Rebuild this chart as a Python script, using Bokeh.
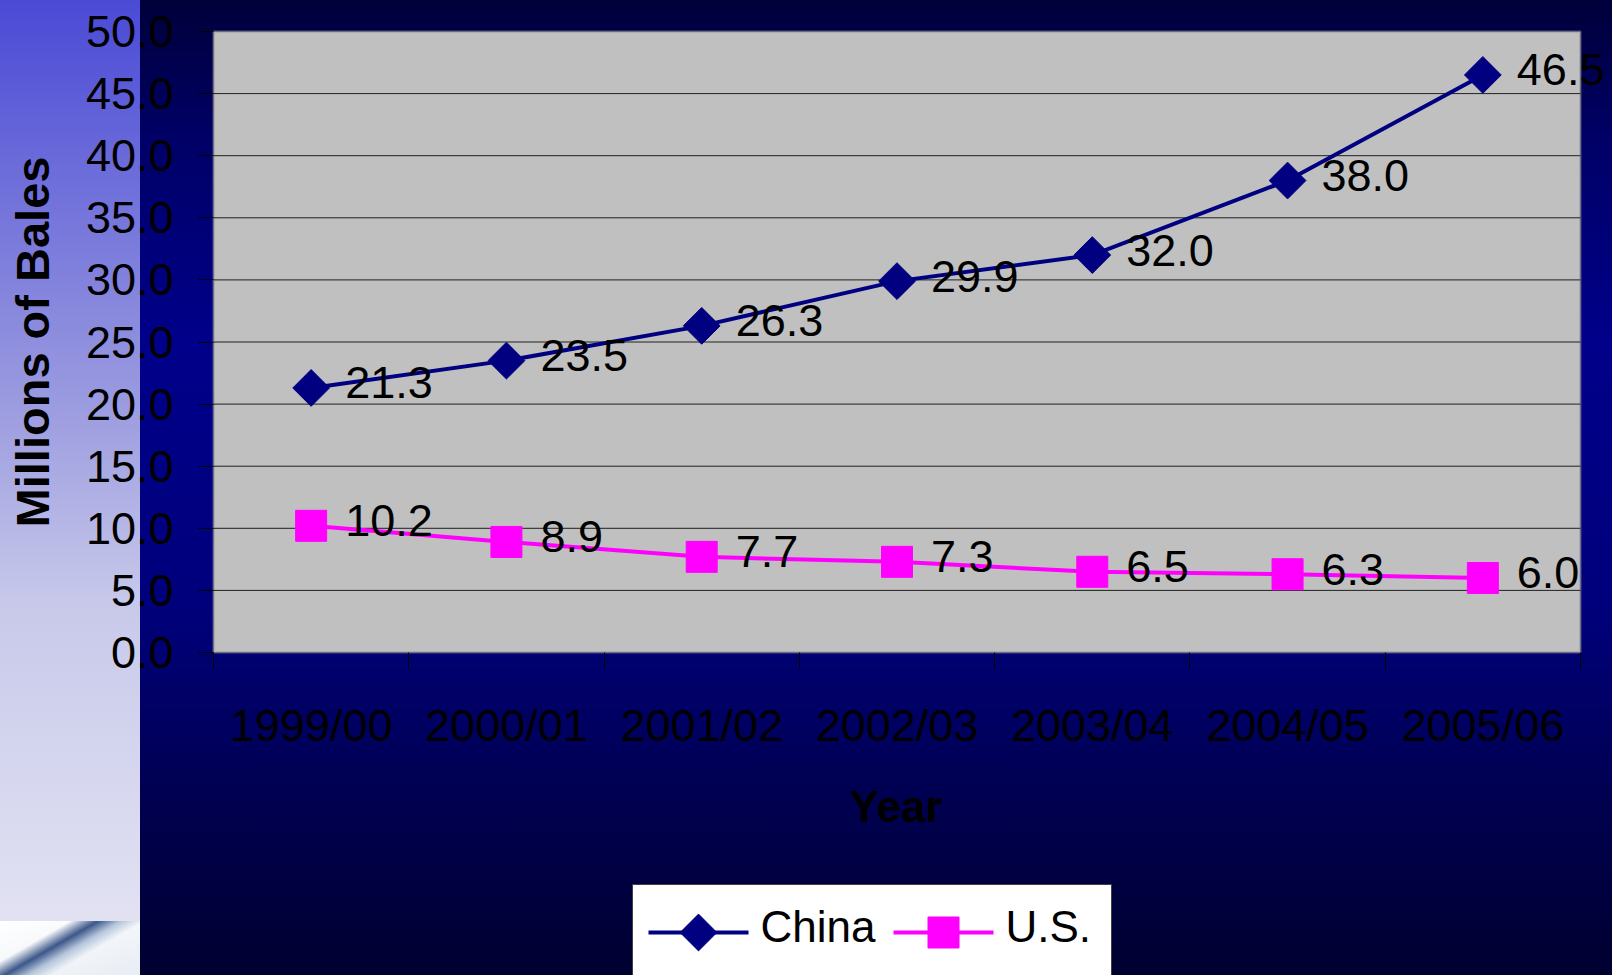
import numpy as np
from bokeh.plotting import figure
from bokeh.layouts import column
from bokeh.core.properties import value
from bokeh.models import (ColumnDataSource, FixedTicker, NumeralTickFormatter,
                          CustomJSTickFormatter, LabelSet, BoxAnnotation, Range1d,
                          Title)
from bokeh.embed import file_html
from bokeh.resources import INLINE

# Cotton consumption, millions of bales
seasons = ["1999/00", "2000/01", "2001/02", "2002/03", "2003/04", "2004/05", "2005/06"]
series = ["China", "U.S."]
china = [21.3, 23.5, 26.3, 29.9, 32.0, 38.0, 46.5]
us = [10.2, 8.9, 7.7, 7.3, 6.5, 6.3, 6.0]
y_ticks = [0, 5, 10, 15, 20, 25, 30, 35, 40, 45, 50]

FONT = "Liberation Sans"
NAVY = "#000080"
MAGENTA = "#FF00FF"

n = len(seasons)
y_top = y_ticks[-1]
xpos = [i + 0.5 for i in range(n)]
bounds = list(range(n + 1))

# canvas geometry (pixels)
W, H = 1612, 975
CHART_H = 860                              # chart figure; key strip below it
LEFT, TOP, BOTTOM = 210, 28, 205           # frame margins of the chart
PAD = 3                                    # frame slack around the plot area
area_w = 1367                              # plot-area width for the categories
area_h = CHART_H - TOP - BOTTOM - 2 * PAD
ux = area_w / n                            # px per category
uy = area_h / y_top                        # px per million bales
x_start = -PAD / ux
x_end = x_start + (W - LEFT) / ux

china_src = ColumnDataSource(dict(x=xpos, y=china, label=[f"{v:.1f}" for v in china]))
us_src = ColumnDataSource(dict(x=xpos, y=us, label=[f"{v:.1f}" for v in us]))

p = figure(width=W, height=CHART_H, x_range=(x_start, x_end),
           y_range=(-PAD / uy, y_top + PAD / uy),
           output_backend="svg", toolbar_location=None,
           min_border_left=LEFT, min_border_right=0,
           min_border_top=TOP, min_border_bottom=BOTTOM,
           background_fill_color=None, border_fill_color=None,
           outline_line_color=None)

# grey plot area
p.add_layout(BoxAnnotation(left=0, right=n, bottom=0, top=y_top,
                           fill_color="#C0C0C0", fill_alpha=1.0,
                           line_color="#808080", line_width=3, level="underlay"))

# horizontal gridlines inside the plot area
inner = y_ticks[1:-1]
p.segment(x0=[0] * len(inner), x1=[n] * len(inner), y0=inner, y1=inner,
          line_color="#202020", line_width=1)
p.xgrid.visible = False
p.ygrid.visible = False

# y axis
p.yaxis.ticker = FixedTicker(ticks=y_ticks)
p.yaxis.formatter = NumeralTickFormatter(format="0.0")
p.yaxis.major_tick_out = 12
p.yaxis.major_tick_in = PAD
p.yaxis.minor_tick_out = 0
p.yaxis.minor_tick_in = 0
p.yaxis.major_label_standoff = 25
p.yaxis.axis_label = "Millions of Bales"
p.yaxis.axis_label_standoff = 24
p.yaxis.axis_label_text_font_size = "47px"
p.yaxis.axis_label_text_font = FONT
p.yaxis.axis_label_text_font_style = "bold"
p.yaxis.axis_label_text_color = "black"

# x axis: labels at category centres, ticks on category boundaries
p.xaxis.ticker = FixedTicker(ticks=xpos, minor_ticks=bounds)
p.xaxis.formatter = CustomJSTickFormatter(args=dict(labels=seasons),
                                          code="return labels[Math.floor(tick)]")
p.xaxis.major_tick_out = 0
p.xaxis.major_tick_in = 0
p.xaxis.minor_tick_out = 13
p.xaxis.minor_tick_in = PAD
p.xaxis.major_label_standoff = 31

for ax in (p.xaxis, p.yaxis):
    ax.axis_line_color = None
    ax.major_tick_line_color = "black"
    ax.minor_tick_line_color = "black"
    ax.major_label_text_font = FONT
    ax.major_label_text_font_size = "45px"
    ax.major_label_text_color = "black"

# x axis title, centred under the grey plot area (not the wider frame)
YEAR_SIZE = 44
year_w = 95                                 # approx. rendered width of the title
p.add_layout(Title(text="Year", align="left",
                   offset=PAD + area_w / 2 - year_w / 2,
                   text_font=FONT, text_font_size=f"{YEAR_SIZE}px",
                   text_font_style="bold", text_color="black",
                   standoff=53), "below")

# series styling shared by chart and key
LINE_W = 4
china_mk = dict(marker="square", angle=np.pi / 4, size=26, fill_color=NAVY, line_color=NAVY)
us_mk = dict(marker="square", size=31, fill_color=MAGENTA, line_color=MAGENTA)

p.line("x", "y", source=china_src, line_color=NAVY, line_width=LINE_W)
p.scatter("x", "y", source=china_src, **china_mk)
p.line("x", "y", source=us_src, line_color=MAGENTA, line_width=LINE_W)
p.scatter("x", "y", source=us_src, **us_mk)

for src in (china_src, us_src):
    p.add_layout(LabelSet(x="x", y="y", text="label", source=src,
                          x_offset=34, y_offset=5, text_baseline="middle",
                          text_align="left", text_font=value(FONT),
                          text_font_size=value("45px"), text_color="black"))

# key strip below the chart, laid out in page pixels (y grows downward)
LEG_H = H - CHART_H
key = figure(width=W, height=LEG_H, x_range=Range1d(LEFT, W),
             y_range=Range1d(H, CHART_H),
             x_axis_type=None, y_axis_type=None,
             output_backend="svg", toolbar_location=None,
             min_border_left=LEFT, min_border_right=0,
             min_border_top=0, min_border_bottom=0,
             background_fill_color=None, border_fill_color=None,
             outline_line_color=None)
key.xgrid.visible = False
key.ygrid.visible = False

KEY_BOX = dict(left=632, right=1111, top=884, bottom=H + 10)
KEY_Y = 932                                 # centre line of the key entries
SWATCH_W = 100
swatch_x0 = [648, 893]                      # left end of each swatch
text_x = [760, 1005]

key.quad(left=KEY_BOX["left"], right=KEY_BOX["right"], top=KEY_BOX["top"],
         bottom=KEY_BOX["bottom"], fill_color="white", line_color="#404040",
         line_width=1)
key.segment(x0=swatch_x0, x1=[x + SWATCH_W for x in swatch_x0],
            y0=[KEY_Y] * 2, y1=[KEY_Y] * 2,
            line_color=[NAVY, MAGENTA], line_width=LINE_W)
key.scatter(x=[swatch_x0[0] + SWATCH_W / 2], y=[KEY_Y], **china_mk)
key.scatter(x=[swatch_x0[1] + SWATCH_W / 2], y=[KEY_Y], **us_mk)
key.text(x=text_x, y=[KEY_Y - 6] * 2, text=series,
         text_font=value(FONT), text_font_size=value("44px"),
         text_color="black", text_baseline="middle", text_align="left")

page = column(p, key, spacing=0)
# slide backdrop: dark blue field, pale strip on the left, photo corner
page.styles = {
    "background": (
        "linear-gradient(150deg, rgba(255,255,255,0) 0%, rgba(255,255,255,0) 30%, "
        "rgba(40,70,125,0.9) 42%, rgba(120,150,190,0.5) 52%, rgba(255,255,255,0) 62%) "
        "0 921px / 140px 54px no-repeat, "
        "linear-gradient(160deg, #ffffff 0%, #e8edf4 100%) 0 921px / 140px 54px no-repeat, "
        "linear-gradient(to bottom, #4a4ad6 0%, #9c9ce0 42%, #c8c9ea 62%, #e6e6f4 100%) "
        "0 0 / 140px 100% no-repeat, "
        "linear-gradient(to bottom, #00003a 0%, #000066 14%, #00008a 35%, #00007c 62%, "
        "#000050 82%, #000030 100%)"
    ),
    "width": f"{W}px",
    "height": f"{H}px",
}

open("out.html", "w").write(file_html(page, INLINE))
